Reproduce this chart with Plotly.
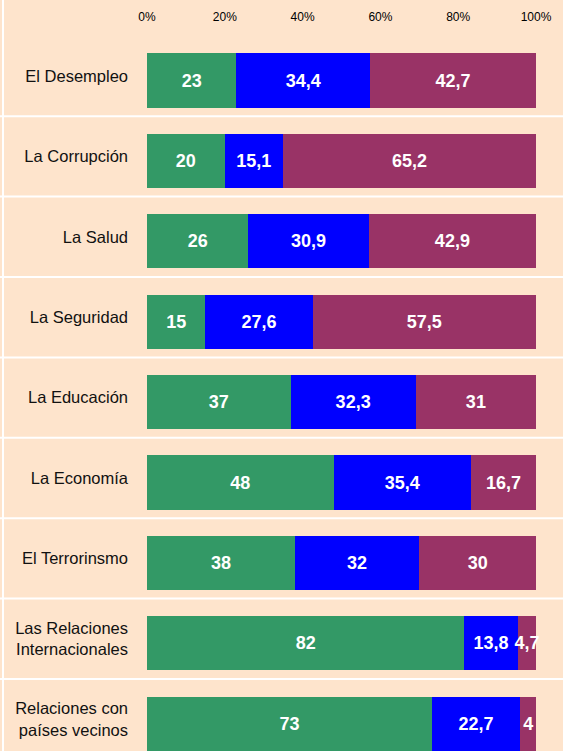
import plotly.graph_objects as go

categories = ["El Desempleo", "La Corrupción", "La Salud", "La Seguridad",
              "La Educación", "La Economía", "El Terrorinsmo",
              "Las Relaciones<br>Internacionales", "Relaciones con<br>países vecinos"]
green_vals = [23, 20, 26, 15, 37, 48, 38, 82, 73]
blue_vals = [34.4, 15.1, 30.9, 27.6, 32.3, 35.4, 32, 13.8, 22.7]
purple_vals = [42.7, 65.2, 42.9, 57.5, 31, 16.7, 30, 4.7, 4]
x_ticks = [0, 20, 40, 60, 80, 100]

positions = list(range(len(categories)))
BG = "#FEE4CC"
W, H = 563, 751
ML, MR, MT, MB = 147, 27, 24, 0


def fmt(v):
    return f"{v:g}".replace(".", ",")


fig = go.Figure()
for vals, color in [(green_vals, "#339966"), (blue_vals, "#0000FF"), (purple_vals, "#993366")]:
    fig.add_trace(go.Bar(
        y=positions, x=vals, orientation="h",
        marker=dict(color=color, line=dict(width=0)),
        width=0.672, offset=-0.336 + 0.056,
        text=[fmt(v) for v in vals], texttemplate="%{text}",
        textposition="inside", insidetextanchor="middle",
        constraintext="none", textangle=0, cliponaxis=False,
        textfont=dict(color="white", size=18, family="Liberation Sans", weight="bold"),
        hoverinfo="skip", showlegend=False,
    ))

pw = W - ML - MR
# row separators (white lines below each category)
for p in positions[:-1]:
    fig.add_shape(type="line", xref="paper", yref="y",
                  x0=(0 - ML) / pw, x1=(W - ML) / pw, y0=p + 0.5, y1=p + 0.5,
                  line=dict(color="white", width=2), layer="below")
# left border line
fig.add_shape(type="line", xref="paper", yref="paper",
              x0=(3 - ML) / pw, x1=(3 - ML) / pw, y0=-0.05, y1=1.1,
              line=dict(color="white", width=2), layer="below")

ph = H - MT - MB
unit = 80.4
top_k = -(76 - MT) / unit
bot_k = top_k + ph / unit

fig.update_layout(
    width=W, height=H,
    margin=dict(l=ML, r=MR, t=MT, b=MB, pad=0),
    paper_bgcolor=BG, plot_bgcolor=BG,
    barmode="stack", barnorm="percent",
    font=dict(family="Liberation Sans", color="#000000"),
    xaxis=dict(side="top", range=[0, 100], tickvals=x_ticks,
               ticktext=[f"{t}%" for t in x_ticks],
               showgrid=False, zeroline=False, showline=False,
               ticks="", tickfont=dict(size=12, color="#000000")),
    yaxis=dict(range=[bot_k, top_k], tickvals=positions, ticktext=categories,
               showgrid=False, zeroline=False, showline=False,
               ticks="", ticklabelstandoff=18,
               tickfont=dict(size=16.5, color="#111111")),
)

fig.write_html("out.html", config={"displayModeBar": False},
               post_script="document.body.style.margin='0px';document.body.style.overflow='hidden';")
